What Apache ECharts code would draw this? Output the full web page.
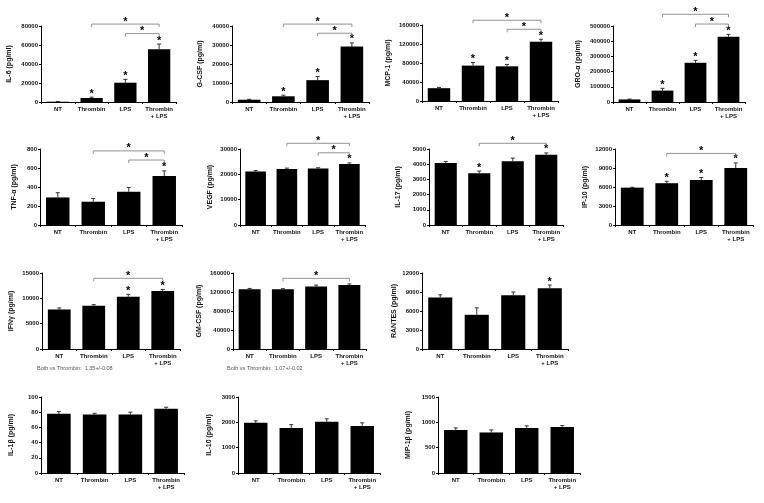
<!DOCTYPE html>
<html><head><meta charset="utf-8">
<script src="https://cdn.jsdelivr.net/npm/echarts@6/dist/echarts.min.js"></script>
<style>html,body{margin:0;padding:0;background:#fff}#c{width:764px;height:503px}</style>
</head><body><div id="c"></div>
<script>
// ---- data ----
const categories = ['NT', 'Thrombin', 'LPS', 'Thrombin\n+ LPS'];

const il6Values = [300, 4200, 20300, 55500];
const il6Errors = [100, 900, 3500, 5500];
const il6Stars = [0, 1, 1, 1];
const il6Brackets = [[1, 3, 82000], [2, 3, 72000]];

const gcsfValues = [1200, 3000, 11500, 29200];
const gcsfErrors = [200, 600, 1900, 1900];
const gcsfStars = [0, 1, 1, 1];
const gcsfBrackets = [[1, 3, 41000], [2, 3, 36200]];

const mcp1Values = [27000, 74500, 73000, 125000];
const mcp1Errors = [1500, 6500, 4000, 5000];
const mcp1Stars = [0, 1, 1, 1];
const mcp1Brackets = [[1, 3, 170000], [2, 3, 151000]];

const groValues = [17000, 75000, 258000, 430000];
const groErrors = [2000, 15000, 16000, 15000];
const groStars = [0, 1, 1, 1];
const groBrackets = [[1, 3, 577000], [2, 3, 513000]];

const tnfValues = [290, 245, 350, 515];
const tnfErrors = [50, 35, 45, 55];
const tnfStars = [0, 0, 0, 1];
const tnfBrackets = [[1, 3, 780], [2, 3, 684]];

const vegfValues = [21100, 22100, 22300, 24100];
const vegfErrors = [400, 350, 300, 400];
const vegfStars = [0, 0, 0, 1];
const vegfBrackets = [[1, 3, 32250], [2, 3, 28500]];

const il17Values = [4080, 3400, 4200, 4620];
const il17Errors = [100, 150, 200, 120];
const il17Stars = [0, 1, 0, 1];
const il17Brackets = [[1, 3, 5375]];

const ip10Values = [5900, 6600, 7100, 9000];
const ip10Errors = [60, 300, 400, 800];
const ip10Stars = [0, 1, 1, 1];
const ip10Brackets = [[1, 3, 11300]];

const ifngValues = [7800, 8550, 10300, 11450];
const ifngErrors = [300, 200, 500, 300];
const ifngStars = [0, 0, 1, 1];
const ifngBrackets = [[1, 3, 13950]];

const gmcsfValues = [126000, 126000, 131500, 135000];
const gmcsfErrors = [1500, 1000, 3000, 2000];
const gmcsfStars = [0, 0, 0, 0];
const gmcsfBrackets = [[1, 3, 148700]];

const rantesValues = [8150, 5400, 8500, 9600];
const rantesErrors = [400, 1100, 500, 500];
const rantesStars = [0, 0, 0, 1];
const rantesBrackets = [];

const il1bValues = [78, 77, 77, 84.5];
const il1bErrors = [3, 1.5, 3, 2];
const il1bStars = [0, 0, 0, 0];

const il10Values = [1980, 1780, 2020, 1860];
const il10Errors = [80, 130, 120, 120];
const il10Stars = [0, 0, 0, 0];

const mip1bValues = [850, 800, 890, 910];
const mip1bErrors = [40, 50, 40, 25];
const mip1bStars = [0, 0, 0, 0];

const noteIfng = 'Both vs Thrombin:  1.35+/-0.08';
const noteGmcsf = 'Both vs Thrombin:  1.07+/-0.02';

// ---- layout ----
const FONT = 'Liberation Sans, Arial, sans-serif';
const panels = [
  {name: 'IL-6 (pg/ml)', v: il6Values, e: il6Errors, s: il6Stars, b: il6Brackets, max: 80000, iv: 20000, left: 41, top: 26, width: 135, gap: 28},
  {name: 'G-CSF (pg/ml)', v: gcsfValues, e: gcsfErrors, s: gcsfStars, b: gcsfBrackets, max: 40000, iv: 10000, left: 232, top: 26, width: 137, gap: 28},
  {name: 'MCP-1 (pg/ml)', v: mcp1Values, e: mcp1Errors, s: mcp1Stars, b: mcp1Brackets, max: 160000, iv: 40000, left: 422, top: 25, width: 136, gap: 30},
  {name: 'GRO-\u03b1 (pg/ml)', v: groValues, e: groErrors, s: groStars, b: groBrackets, max: 500000, iv: 100000, left: 613, top: 26, width: 132, gap: 31},
  {name: 'TNF-\u03b1 (pg/ml)', v: tnfValues, e: tnfErrors, s: tnfStars, b: tnfBrackets, max: 800, iv: 200, left: 40, top: 149, width: 142, gap: 22},
  {name: 'VEGF (pg/ml)', v: vegfValues, e: vegfErrors, s: vegfStars, b: vegfBrackets, max: 30000, iv: 10000, left: 240, top: 149, width: 125, gap: 26},
  {name: 'IL-17 (pg/ml)', v: il17Values, e: il17Errors, s: il17Stars, b: il17Brackets, max: 5000, iv: 1000, left: 429, top: 149, width: 134, gap: 27},
  {name: 'IP-10 (pg/ml)', v: ip10Values, e: ip10Errors, s: ip10Stars, b: ip10Brackets, max: 12000, iv: 3000, left: 615, top: 149, width: 138, gap: 26},
  {name: 'IFN\u03b3 (pg/ml)', v: ifngValues, e: ifngErrors, s: ifngStars, b: ifngBrackets, max: 15000, iv: 5000, left: 42, top: 273, width: 138, gap: 27},
  {name: 'GM-CSF (pg/ml)', v: gmcsfValues, e: gmcsfErrors, s: gmcsfStars, b: gmcsfBrackets, max: 160000, iv: 40000, left: 233, top: 273, width: 133, gap: 30},
  {name: 'RANTES (pg/ml)', v: rantesValues, e: rantesErrors, s: rantesStars, b: rantesBrackets, max: 12000, iv: 3000, left: 422, top: 273, width: 146, gap: 24},
  {name: 'IL-1\u03b2 (pg/ml)', v: il1bValues, e: il1bErrors, s: il1bStars, b: [], max: 100, iv: 20, left: 41, top: 397, width: 143, gap: 26},
  {name: 'IL-10 (pg/ml)', v: il10Values, e: il10Errors, s: il10Stars, b: [], max: 3000, iv: 1000, left: 238, top: 397, width: 142, gap: 25},
  {name: 'MIP-1\u03b2 (pg/ml)', v: mip1bValues, e: mip1bErrors, s: mip1bStars, b: [], max: 1500, iv: 500, left: 438, top: 397, width: 142, gap: 26}
];

const option = {
  animation: false,
  backgroundColor: '#fff',
  grid: [], xAxis: [], yAxis: [], series: [],
  graphic: [
    {type: 'text', left: 37, top: 365, style: {text: noteIfng, fontSize: 5.5, fill: '#555', fontFamily: FONT}},
    {type: 'text', left: 227, top: 365, style: {text: noteGmcsf, fontSize: 5.5, fill: '#555', fontFamily: FONT}}
  ]
};

panels.forEach((p, i) => {
  option.grid.push({left: p.left, top: p.top, width: p.width, height: 76});
  option.xAxis.push({
    type: 'category', gridIndex: i, data: categories,
    axisLine: {lineStyle: {color: '#000', width: 1}},
    axisTick: {show: true, length: 2, lineStyle: {color: '#000'}},
    axisLabel: {fontSize: 6, fontWeight: 'bold', color: '#111', margin: 4, interval: 0, lineHeight: 7, fontFamily: FONT}
  });
  option.yAxis.push({
    type: 'value', gridIndex: i, min: 0, max: p.max, interval: p.iv,
    name: p.name, nameLocation: 'middle', nameGap: p.gap,
    nameTextStyle: {fontSize: 7, fontWeight: 'bold', color: '#111', fontFamily: FONT},
    axisLine: {show: true, lineStyle: {color: '#000', width: 1}},
    axisTick: {show: true, length: 2, lineStyle: {color: '#000'}},
    splitLine: {show: false},
    axisLabel: {fontSize: 6, fontWeight: 'bold', color: '#111', margin: 3, fontFamily: FONT, formatter: (val) => String(val)}
  });
  option.series.push({
    type: 'bar', xAxisIndex: i, yAxisIndex: i, data: p.v, barWidth: '66%',
    itemStyle: {color: '#000'}, silent: true
  });
  option.series.push({
    type: 'custom', xAxisIndex: i, yAxisIndex: i, clip: false, silent: true,
    data: p.v.map((v, j) => [j, v, p.e[j], p.s[j]]),
    renderItem: (params, api) => {
      const j = api.value(0), v = api.value(1), e = api.value(2), s = api.value(3);
      const base = api.coord([j, v]);
      const top = api.coord([j, v + e]);
      const ch = [
        {type: 'line', shape: {x1: base[0], y1: base[1], x2: top[0], y2: top[1]}, style: {stroke: '#333', lineWidth: 1}},
        {type: 'line', shape: {x1: top[0] - 2, y1: top[1], x2: top[0] + 2, y2: top[1]}, style: {stroke: '#333', lineWidth: 1}}
      ];
      if (s) ch.push({type: 'text', x: top[0], y: top[1] + 2, style: {text: '*', fontSize: 11, fontWeight: 'bold', fill: '#000', align: 'center', verticalAlign: 'bottom', fontFamily: FONT}});
      return {type: 'group', children: ch};
    }
  });
  if (p.b.length) {
    option.series.push({
      type: 'custom', xAxisIndex: i, yAxisIndex: i, clip: false, silent: true,
      data: p.b,
      renderItem: (params, api) => {
        const a = api.coord([api.value(0), api.value(2)]);
        const b = api.coord([api.value(1), api.value(2)]);
        return {type: 'group', children: [
          {type: 'polyline', shape: {points: [[a[0], a[1] + 3], [a[0], a[1]], [b[0], b[1]], [b[0], b[1] + 3]]}, style: {stroke: '#777', lineWidth: 0.8, fill: null}},
          {type: 'text', x: (a[0] + b[0]) / 2, y: a[1] + 3, style: {text: '*', fontSize: 11, fontWeight: 'bold', fill: '#000', align: 'center', verticalAlign: 'bottom', fontFamily: FONT}}
        ]};
      }
    });
  }
});

const chart = echarts.init(document.getElementById('c'), null, {renderer: 'canvas'});
chart.setOption(option);
</script></body></html>
